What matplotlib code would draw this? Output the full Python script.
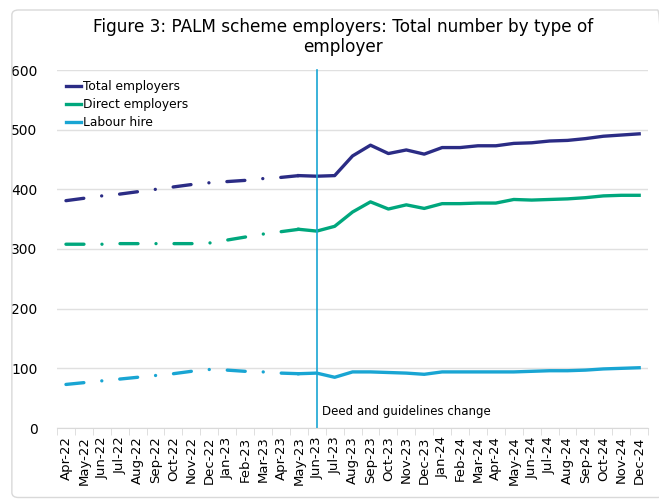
import matplotlib.pyplot as plt
from matplotlib.patches import FancyBboxPatch

months = ["Apr-22", "May-22", "Jun-22", "Jul-22", "Aug-22", "Sep-22", "Oct-22", "Nov-22",
          "Dec-22", "Jan-23", "Feb-23", "Mar-23", "Apr-23", "May-23", "Jun-23", "Jul-23",
          "Aug-23", "Sep-23", "Oct-23", "Nov-23", "Dec-23", "Jan-24", "Feb-24", "Mar-24",
          "Apr-24", "May-24", "Jun-24", "Jul-24", "Aug-24", "Sep-24", "Oct-24", "Nov-24",
          "Dec-24"]

total = [381, 385, 389, 392, 396, 400, 404, 408, 411, 413, 415, 418, 420, 423,
         422, 423, 456, 474, 460, 466, 459, 470, 470, 473, 473, 477, 478, 481,
         482, 485, 489, 491, 493]
direct = [308, 308, 308, 309, 309, 309, 309, 309, 310, 315, 320, 325, 329, 333,
          330, 338, 362, 379, 367, 374, 368, 376, 376, 377, 377, 383, 382, 383,
          384, 386, 389, 390, 390]
labour = [73, 76, 79, 82, 85, 88, 91, 95, 98, 97, 95, 94, 92, 91,
          92, 85, 94, 94, 93, 92, 90, 94, 94, 94, 94, 94, 95, 96,
          96, 97, 99, 100, 101]

split = 13  # May-23: dash-dot before, solid after
change_idx = 14  # Jun-23

c_total = "#2b2c85"
c_direct = "#00a77d"
c_labour = "#19a5d3"

fig = plt.figure(figsize=(6.59, 5), dpi=100)
fig.patches.append(FancyBboxPatch((0.018, 0.005), 0.99, 0.975, boxstyle="round,pad=0,rounding_size=0.01",
                                  transform=fig.transFigure, fill=False, ec="#d9d9d9", lw=1))
ax = fig.add_axes([0.0865, 0.144, 0.897, 0.716])

x = list(range(len(months)))
dd = (0, (5.4, 5.4, 0.01, 5.4))
for vals, col, name in [(total, c_total, "Total employers"),
                        (direct, c_direct, "Direct employers"),
                        (labour, c_labour, "Labour hire")]:
    ax.plot(x[:split + 1], vals[:split + 1], color=col, lw=2.4, ls=dd, dash_capstyle="round")
    ax.plot(x[split:], vals[split:], color=col, lw=2.4, label=name)

ax.plot([change_idx, change_idx], [0, 600], color=c_labour, lw=1.2, clip_on=False)
ax.text(change_idx + 0.3, 27, "Deed and guidelines change", fontsize=8.5, va="center")

ax.set_xlim(-0.5, len(months) - 0.5)
ax.set_ylim(0, 600)
ax.set_yticks(range(0, 601, 100))
ax.set_xticks(x)
ax.set_xticklabels(months, rotation=90, fontsize=9.5)
ax.set_xticks([i + 0.5 for i in range(-1, len(months))], minor=True)
ax.tick_params(axis="x", which="major", length=0, pad=6)
ax.tick_params(axis="x", which="minor", length=5, color="#d9d9d9")
ax.tick_params(axis="y", length=0, labelsize=10, pad=14)
ax.grid(axis="y", color="#e0e0e0", lw=1)
ax.set_axisbelow(True)
for s in ["top", "right", "left"]:
    ax.spines[s].set_visible(False)
ax.spines["bottom"].set_color("#d9d9d9")

ax.legend(loc="upper left", bbox_to_anchor=(0.0, 0.995), frameon=False, fontsize=8.8,
          handlelength=1.3, handletextpad=0.1, labelspacing=0.4, borderaxespad=0.3)

fig.text(0.52, 0.963, "Figure 3: PALM scheme employers: Total number by type of\nemployer",
         ha="center", va="top", fontsize=12.2, linespacing=1.1)

fig.savefig("out.png", dpi=100)
